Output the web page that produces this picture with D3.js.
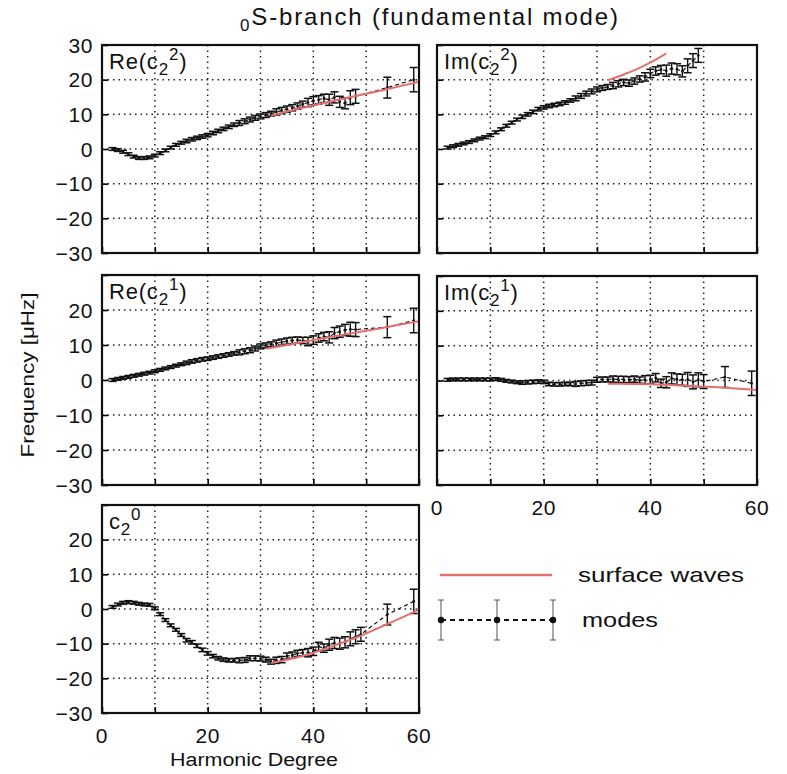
<!DOCTYPE html>
<html>
<head>
<meta charset="utf-8">
<script src="https://cdn.jsdelivr.net/npm/d3@7"></script>
<style>
  body { margin: 0; background: #fff; }
  svg text { font-family: "Liberation Sans", Arial, sans-serif; fill: #111; }
</style>
</head>
<body>
<svg id="chart" width="787" height="774"></svg>
<script>
/* harmonic degrees of the modes (dense 2..50, then 54 and 59) */
const degrees = [2,3,4,5,6,7,8,9,10,11,12,13,14,15,16,17,18,19,20,21,22,23,24,25,26,
  27,28,29,30,31,32,33,34,35,36,37,38,39,40,41,42,43,44,45,46,47,48,49,50,54,59];

/* mode error (half width) for each degree */
const mode_err = [0.4,0.4,0.4,0.4,0.4,0.4,0.4,0.4,0.4,0.4,0.4,0.4,0.4,0.4,
  0.5,0.5,0.5,0.5,0.5,0.5,0.5,0.5,0.5,0.5,
  0.7,0.7,0.7,0.7,0.7,0.7,0.7,
  0.9,0.9,0.9,0.9,0.9,0.9,
  1.2,1.2,1.2,1.2,
  1.6,1.6,1.6,1.6,
  2.0,2.0,2.0,2.0,
  3.0,3.5];

/* mode values, null = no measurement */
const re_c22 = [0,-0.3,-0.8,-1.5,-2.2,-2.6,-2.6,-2.4,-1.9,-1.2,-0.4,0.4,1.2,1.8,2.3,2.8,3.2,3.6,
  4.0,4.6,5.2,5.8,6.4,7.0,7.5,8.0,8.5,9.0,9.4,9.8,10.2,10.7,11.1,11.5,11.9,12.4,12.9,13.4,13.9,
  14.2,14.6,14.2,14.9,13.6,13.2,14.8,15.2,null,null,17.7,20.0];
const im_c22 = [0.4,0.8,1.2,1.6,2.0,2.5,3.0,3.4,4.0,4.8,5.7,6.7,7.6,8.5,9.3,10.0,10.7,11.5,
  12.0,12.4,12.7,13.0,13.4,14.0,14.6,15.3,16.0,16.6,17.2,17.6,17.9,18.3,18.8,19.2,19.0,19.6,20.2,
  20.8,21.8,22.5,22.9,22.6,23.2,23.0,22.4,24.0,25.5,27.0,null,null,null];
const re_c21 = [0.0,0.3,0.6,0.9,1.2,1.5,1.8,2.1,2.5,2.9,3.3,3.7,4.1,4.5,4.9,5.3,5.6,5.9,6.1,
  6.4,6.7,7.0,7.3,7.6,7.9,8.2,8.5,9.0,9.6,9.9,10.2,10.5,10.8,11.1,11.3,11.4,11.3,11.0,11.4,12.0,
  12.4,12.2,13.4,13.8,14.3,14.5,14.4,null,null,15.1,17.0];
const im_c21 = [0.2,0.3,0.3,0.3,0.3,0.3,0.3,0.3,0.3,0.4,0.2,-0.1,-0.3,-0.5,-0.6,-0.5,-0.4,-0.3,
  -0.4,-1.0,-1.1,-1.1,-1.0,-1.0,-1.0,-0.8,-0.7,-0.6,0.2,0.3,0.3,0.4,0.3,0.3,0.2,0.4,0.1,0.2,0.3,
  0.8,-0.8,-0.5,0.6,0.3,0.2,0.3,-0.4,0.2,-0.3,1.0,-0.8];
const c20 = [0.6,1.3,1.8,2.0,1.8,1.5,1.3,1.2,0.2,-1.5,-3.2,-4.7,-6.0,-7.5,-9.0,-9.6,-10.6,-11.8,
  -12.8,-13.6,-14.2,-14.6,-14.8,-14.8,-14.8,-14.7,-14.2,-14.2,-14.3,-14.6,-15.2,-14.8,-14.6,-13.6,
  -13.3,-12.8,-12.6,-12.6,-12.2,-10.8,-11.3,-10.3,-9.8,-10.0,-9.6,-8.6,-8.0,-7.3,null,-1.6,2.2];

/* surface wave predictions */
const sw_re_c22_deg = [32,36,40,44,48,52,56,60];
const sw_re_c22 = [9.6,11.2,12.6,14.0,15.3,16.6,18.0,19.4];
const sw_im_c22_deg = [32,35,38,41,43];
const sw_im_c22 = [19.8,21.5,23.4,25.8,27.6];
const sw_re_c21_deg = [31,36,40,44,48,52,56,60];
const sw_re_c21 = [8.9,10.3,11.4,12.5,13.6,14.6,15.7,16.8];
const sw_im_c21_deg = [32,36,40,44,48,52,56,60];
const sw_im_c21 = [-0.9,-1.0,-1.1,-1.3,-1.6,-1.9,-2.3,-2.7];
const sw_c20_deg = [32,36,40,44,48,52,56,60];
const sw_c20 = [-15.6,-14.3,-12.6,-10.5,-8.3,-5.7,-3.0,-0.2];

const x_ticks = [0,10,20,30,40,50,60];
const x_labels = [0,20,40,60];
const y_ticks = [-30,-20,-10,0,10,20,30];

const RED = '#e4706c';
const svg = d3.select('#chart');

// one panel: label parts, data, position and which axes get labels
const panels = [
  {name: ['Re(c', '2', '2', ')'], modes: re_c22, sw_deg: sw_re_c22_deg, sw: sw_re_c22,
   x: [102, 419], y: [45, 253], ylab: [-30,-20,-10,0,10,20,30], xlab: false},
  {name: ['Im(c', '2', '2', ')'], modes: im_c22, sw_deg: sw_im_c22_deg, sw: sw_im_c22,
   x: [437, 757], y: [45, 253], ylab: [], xlab: false},
  {name: ['Re(c', '2', '1', ')'], modes: re_c21, sw_deg: sw_re_c21_deg, sw: sw_re_c21,
   x: [102, 419], y: [275, 485], ylab: [-30,-20,-10,0,10,20], xlab: false},
  {name: ['Im(c', '2', '1', ')'], modes: im_c21, sw_deg: sw_im_c21_deg, sw: sw_im_c21,
   x: [437, 757], y: [276, 485], ylab: [], xlab: true},
  {name: ['c', '2', '0', ''], modes: c20, sw_deg: sw_c20_deg, sw: sw_c20,
   x: [102, 419], y: [505, 713], ylab: [-30,-20,-10,0,10,20], xlab: true},
];

const fmt = (v) => v < 0 ? '\u2212' + Math.abs(v) : '' + v;

const draw_panel = (p) => {
  const xs = d3.scaleLinear().domain([0, 60]).range(p.x);
  const ys = d3.scaleLinear().domain([-30, 30]).range([p.y[1], p.y[0]]);
  const g = svg.append('g');

  // dotted grid
  g.selectAll('.gx').data(x_ticks.slice(1, -1)).join('line')
    .attr('x1', d => xs(d)).attr('x2', d => xs(d))
    .attr('y1', p.y[0]).attr('y2', p.y[1])
    .attr('stroke', '#222').attr('stroke-width', 1.5).attr('stroke-dasharray', '1.5,4');
  g.selectAll('.gy').data(y_ticks.slice(1, -1)).join('line')
    .attr('y1', d => ys(d)).attr('y2', d => ys(d))
    .attr('x1', p.x[0]).attr('x2', p.x[1])
    .attr('stroke', '#222').attr('stroke-width', 1.5).attr('stroke-dasharray', '1.5,4');

  // inward ticks
  g.append('g').attr('transform', 'translate(0,' + p.y[1] + ')')
    .call(d3.axisTop(xs).tickValues(x_ticks).tickSize(6).tickFormat(''))
    .call(a => a.select('.domain').remove())
    .call(a => a.selectAll('line').attr('stroke-width', 1.6));
  g.append('g').attr('transform', 'translate(' + p.x[0] + ',0)')
    .call(d3.axisRight(ys).tickValues(y_ticks).tickSize(6).tickFormat(''))
    .call(a => a.select('.domain').remove())
    .call(a => a.selectAll('line').attr('stroke-width', 1.6));

  // tick labels
  g.selectAll('.yl').data(p.ylab).join('text')
    .attr('x', p.x[0] - 9).attr('y', d => ys(d) + 7.5)
    .attr('text-anchor', 'end').attr('font-size', 21).attr('letter-spacing', 0.6)
    .text(fmt);
  if (p.xlab) {
    g.selectAll('.xl').data(x_labels).join('text')
      .attr('x', d => xs(d)).attr('y', p.y[1] + 30)
      .attr('text-anchor', 'middle').attr('font-size', 21).attr('letter-spacing', 0.6)
      .text(d => d);
  }

  // modes: dashed line, error bars, dots
  const pts = degrees.map((l, i) => ({l: l, v: p.modes[i], e: mode_err[i]}))
    .filter(d => d.v !== null);
  g.append('path').datum(pts)
    .attr('fill', 'none').attr('stroke', '#111').attr('stroke-width', 1.2)
    .attr('stroke-dasharray', '4,3')
    .attr('d', d3.line().x(d => xs(d.l)).y(d => ys(d.v)));
  const bars = g.selectAll('.eb').data(pts).join('g');
  bars.append('line')
    .attr('x1', d => xs(d.l)).attr('x2', d => xs(d.l))
    .attr('y1', d => ys(d.v - d.e)).attr('y2', d => ys(d.v + d.e))
    .attr('stroke', '#111').attr('stroke-width', 1.4);
  [-1, 1].forEach(s => {
    bars.append('line')
      .attr('x1', d => xs(d.l) - 4).attr('x2', d => xs(d.l) + 4)
      .attr('y1', d => ys(d.v + s * d.e)).attr('y2', d => ys(d.v + s * d.e))
      .attr('stroke', '#111').attr('stroke-width', 1.5);
  });
  bars.append('circle')
    .attr('cx', d => xs(d.l)).attr('cy', d => ys(d.v)).attr('r', 1.3).attr('fill', '#111');

  // surface waves
  g.append('path').datum(p.sw_deg.map((l, i) => [l, p.sw[i]]))
    .attr('fill', 'none').attr('stroke', RED).attr('stroke-width', 2)
    .attr('d', d3.line().x(d => xs(d[0])).y(d => ys(d[1])).curve(d3.curveMonotoneX));

  // frame
  g.append('rect').attr('x', p.x[0]).attr('y', p.y[0])
    .attr('width', p.x[1] - p.x[0]).attr('height', p.y[1] - p.y[0])
    .attr('fill', 'none').attr('stroke', '#111').attr('stroke-width', 2.2);

  // panel name, e.g. Re(c_2^2)
  const t = g.append('text').attr('x', p.x[0] + 7).attr('y', p.y[0] + 24)
    .attr('font-size', 22).attr('letter-spacing', 0.8);
  t.append('tspan').text(p.name[0]);
  t.append('tspan').attr('dy', 6).attr('font-size', 17).text(p.name[1]);
  t.append('tspan').attr('dy', -15).attr('font-size', 17).text(p.name[2]);
  t.append('tspan').attr('dy', 9).text(p.name[3]);
};

panels.forEach(draw_panel);

// title
const title = svg.append('text').attr('x', 429).attr('y', 25)
  .attr('text-anchor', 'middle').attr('font-size', 24)
  .attr('textLength', 378).attr('lengthAdjust', 'spacing');
title.append('tspan').attr('dy', 6).attr('font-size', 17).text('0');
title.append('tspan').attr('dy', -6).text('S-branch (fundamental mode)');

// axis titles
svg.append('text').attr('transform', 'translate(34,375) rotate(-90)')
  .attr('text-anchor', 'middle').attr('font-size', 18)
  .attr('textLength', 165).attr('lengthAdjust', 'spacingAndGlyphs').text('Frequency [\u03bcHz]');
svg.append('text').attr('x', 254).attr('y', 766)
  .attr('text-anchor', 'middle').attr('font-size', 18)
  .attr('textLength', 168).attr('lengthAdjust', 'spacingAndGlyphs').text('Harmonic Degree');

// legend
const leg = svg.append('g');
leg.append('line').attr('x1', 440).attr('x2', 552).attr('y1', 575).attr('y2', 575)
  .attr('stroke', RED).attr('stroke-width', 2.5);
leg.append('text').attr('x', 578).attr('y', 582).attr('font-size', 21)
  .attr('textLength', 166).attr('lengthAdjust', 'spacingAndGlyphs').text('surface waves');
const leg_x = [441, 497, 553];
leg.append('line').attr('x1', 441).attr('x2', 553).attr('y1', 620).attr('y2', 620)
  .attr('stroke', '#111').attr('stroke-width', 1.8).attr('stroke-dasharray', '5,4');
leg_x.forEach(x => {
  leg.append('line').attr('x1', x).attr('x2', x).attr('y1', 600).attr('y2', 640)
    .attr('stroke', '#555').attr('stroke-width', 1);
  leg.append('line').attr('x1', x - 3).attr('x2', x + 3).attr('y1', 600).attr('y2', 600)
    .attr('stroke', '#555').attr('stroke-width', 1);
  leg.append('line').attr('x1', x - 3).attr('x2', x + 3).attr('y1', 640).attr('y2', 640)
    .attr('stroke', '#555').attr('stroke-width', 1);
  leg.append('circle').attr('cx', x).attr('cy', 620).attr('r', 3.2).attr('fill', '#111');
});
leg.append('text').attr('x', 582).attr('y', 627).attr('font-size', 21)
  .attr('textLength', 76).attr('lengthAdjust', 'spacingAndGlyphs').text('modes');
</script>
</body>
</html>
